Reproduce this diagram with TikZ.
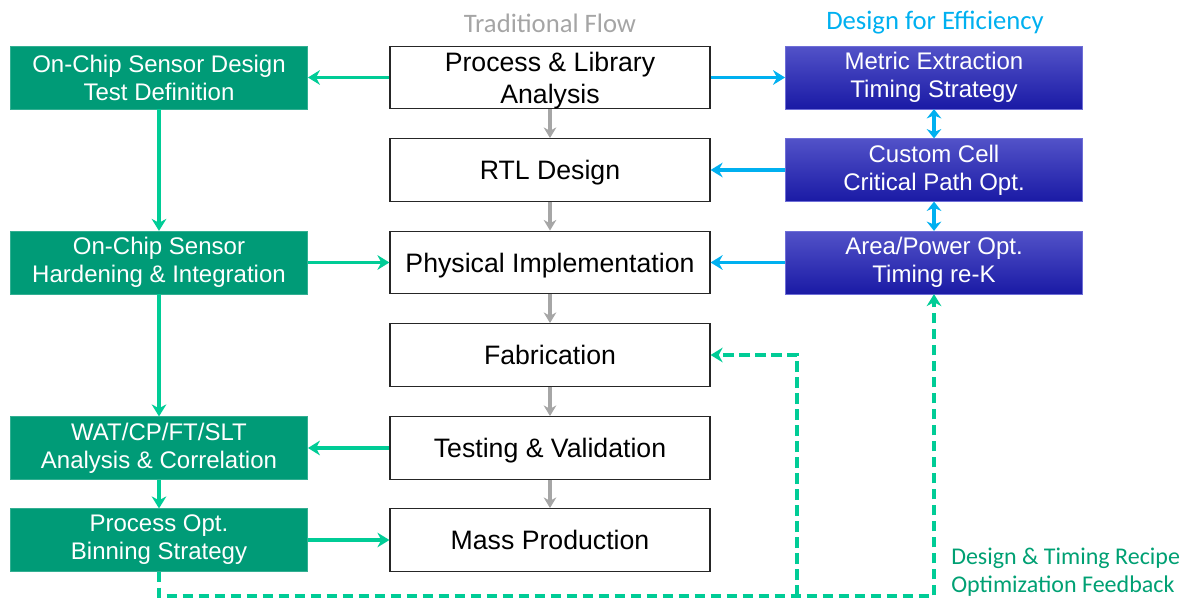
\documentclass[tikz,border=0pt]{standalone}
\usepackage{fontspec}
\setmainfont{Liberation Sans}
\newfontfamily\titlefont{Carlito}
\usepackage{tikz}
\usetikzlibrary{arrows.meta,calc}
\definecolor{sensorcolor}{RGB}{0,155,119}
\definecolor{sensorarrow}{RGB}{0,204,150}
\definecolor{effitop}{RGB}{82,82,200}
\definecolor{effibottom}{RGB}{26,26,165}
\definecolor{effiedge}{RGB}{110,110,215}
\definecolor{effiarrow}{RGB}{0,176,240}
\definecolor{flowarrow}{RGB}{166,166,166}
\definecolor{flowtitle}{RGB}{165,165,165}
\definecolor{feedbackcolor}{RGB}{0,160,115}

\begin{document}
\begin{tikzpicture}[x=0.75pt, y=-0.75pt, >=Stealth,
    boxtext/.style={align=center, inner sep=0pt, font=\fontsize{18}{21}\selectfont},
    flowbox/.style={boxtext, font=\fontsize{20}{24}\selectfont, text depth=0pt, draw=black!85,
        line width=0.9pt, fill=white, minimum width=240pt, minimum height=47pt},
    sensorbox/.style={boxtext, fill=sensorcolor, draw=sensorcolor!80!white, text=white,
        minimum width=223pt, minimum height=47pt},
    effibox/.style={boxtext, top color=effitop, bottom color=effibottom, draw=effiedge,
        text=white, minimum width=223pt, minimum height=47pt},
    flowline/.style={->, flowarrow, line width=2.6pt, arrows={-Stealth[length=8pt, width=9.5pt]}},
    sensorline/.style={sensorarrow, line width=2.6pt, arrows={-Stealth[length=9pt, width=11pt]}},
    effiline/.style={effiarrow, line width=2.6pt, arrows={-Stealth[length=9pt, width=11pt]}},
    effiboth/.style={effiarrow, line width=2.6pt, arrows={Stealth[length=7pt, width=11pt]-Stealth[length=7pt, width=11pt]}},
    feedline/.style={sensorline, dash pattern=on 8pt off 4pt}]

    \useasboundingbox (0,0) rectangle (1187,598);

    % ═══════════════════════════════════════════════════════════════════════════
    % TITRES
    % ═══════════════════════════════════════════════════════════════════════════

    \node[flowtitle, font=\titlefont\fontsize{20}{24}\selectfont] (tradtitle) at (550, 23) {Traditional Flow};
    \node[effiarrow, font=\titlefont\fontsize{20}{24}\selectfont] (effititle) at (935, 23) {Design for Efficiency};

    % ═══════════════════════════════════════════════════════════════════════════
    % FLOT TRADITIONNEL
    % ═══════════════════════════════════════════════════════════════════════════

    \node[flowbox] (process) at (550, 77.5) {Process \& Library\\Analysis};
    \node[flowbox] (rtl) at (550, 170) {RTL Design};
    \node[flowbox] (physical) at (550, 262.5) {Physical Implementation};
    \node[flowbox] (fab) at (550, 355) {Fabrication};
    \node[flowbox] (testing) at (550, 448) {Testing \& Validation};
    \node[flowbox] (mass) at (550, 540) {Mass Production};

    \draw[flowline] (process) -- (rtl);
    \draw[flowline] (rtl) -- (physical);
    \draw[flowline] (physical) -- (fab);
    \draw[flowline] (fab) -- (testing);
    \draw[flowline] (testing) -- (mass);

    % ═══════════════════════════════════════════════════════════════════════════
    % CAPTEURS SUR PUCE
    % ═══════════════════════════════════════════════════════════════════════════

    \node[sensorbox] (sensordesign) at (159, 77.5) {On-Chip Sensor Design\\Test Definition};
    \node[sensorbox] (hardening) at (159, 262.5) {On-Chip Sensor\\Hardening \& Integration};
    \node[sensorbox] (wat) at (159, 448) {WAT/CP/FT/SLT\\Analysis \& Correlation};
    \node[sensorbox] (binning) at (159, 540) {Process Opt.\\Binning Strategy};

    \draw[sensorline] (process) -- (sensordesign);
    \draw[sensorline] (sensordesign) -- (hardening);
    \draw[sensorline] (hardening) -- (physical);
    \draw[sensorline] (hardening) -- (wat);
    \draw[sensorline] (testing) -- (wat);
    \draw[sensorline] (wat) -- (binning);
    \draw[sensorline] (binning) -- (mass);

    % ═══════════════════════════════════════════════════════════════════════════
    % CONCEPTION POUR L'EFFICACITÉ
    % ═══════════════════════════════════════════════════════════════════════════

    \node[effibox] (metric) at (934, 77.5) {Metric Extraction\\Timing Strategy};
    \node[effibox] (custom) at (934, 170) {Custom Cell\\Critical Path Opt.};
    \node[effibox] (area) at (934, 262.5) {Area/Power Opt.\\Timing re-K};

    \draw[effiline] (process) -- (metric);
    \draw[effiline] (custom) -- (rtl);
    \draw[effiline] (area) -- (physical);
    \draw[effiboth] (metric) -- (custom);
    \draw[effiboth] (custom) -- (area);

    % ═══════════════════════════════════════════════════════════════════════════
    % RETOUR
    % ═══════════════════════════════════════════════════════════════════════════

    \coordinate (feedcorner) at (159, 596);
    \coordinate (feedsplit) at (797, 596);
    \draw[feedline] (binning.south) -- (feedcorner) -| (area.south);
    \draw[feedline] (feedsplit) |- (fab.east);

    \node[feedbackcolor, anchor=west, align=left, inner sep=0pt,
        font=\titlefont\fontsize{18}{21}\selectfont] (feedback) at (951, 572)
        {Design \& Timing Recipe\\Optimization Feedback};

\end{tikzpicture}
\end{document}
